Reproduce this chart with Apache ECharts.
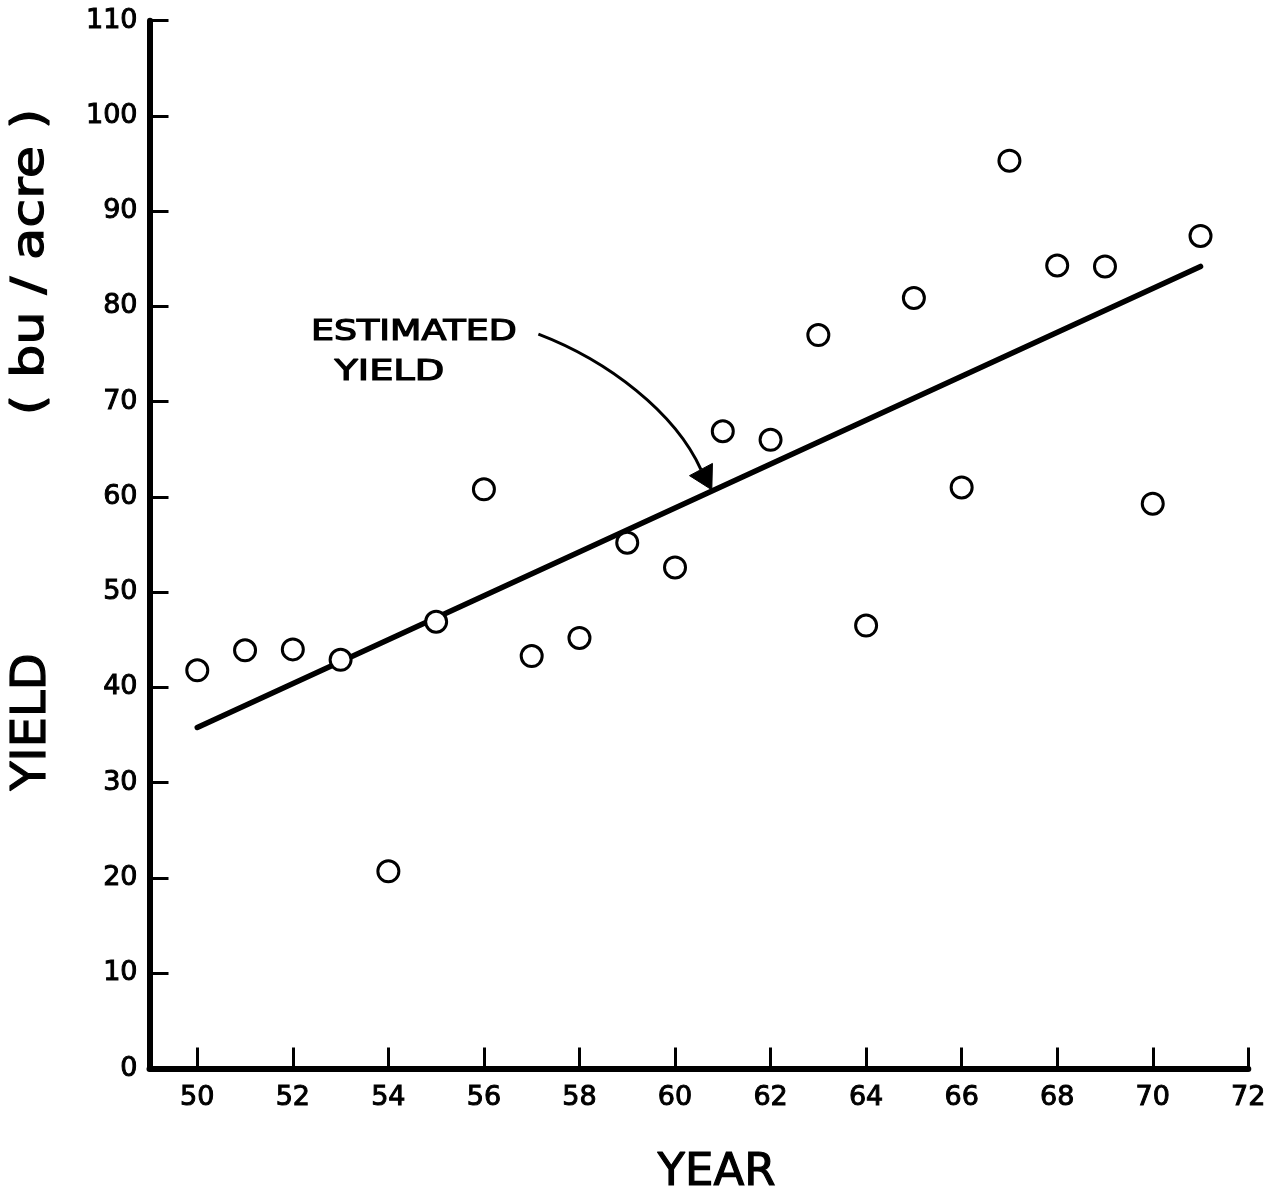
<!DOCTYPE html>
<html><head><meta charset="utf-8">
<script src="https://cdn.jsdelivr.net/npm/echarts@6/dist/echarts.min.js"></script>
<style>html,body{margin:0;padding:0;background:#fff}#c{width:1281px;height:1197px}</style>
</head><body><div id="c"></div>
<script>
// ---- data ----
const years = [50, 51, 52, 53, 54, 55, 56, 57, 58, 59, 60, 61, 62, 63, 64, 65, 66, 67, 68, 69, 70, 71];
const yields = [41.8, 43.9, 44.0, 42.9, 20.7, 46.9, 60.8, 43.3, 45.2, 55.2, 52.6, 66.9, 66.0, 77.0, 46.5, 80.9, 61.0, 95.3, 84.3, 84.2, 59.3, 87.4];
const trendYears = [50, 71];
const trendValues = [35.8, 84.2];
const xTicks = [50, 52, 54, 56, 58, 60, 62, 64, 66, 68, 70, 72];
const annotationLines = ['ESTIMATED', 'YIELD'];

const FONT = 'DejaVu Sans';
const chart = echarts.init(document.getElementById('c'), null, {renderer: 'canvas'});
chart.setOption({
  animation: false,
  backgroundColor: '#fff',
  grid: {left: 149.5, right: 32.7, top: 20.7, bottom: 128.5},
  xAxis: {
    type: 'value', min: 49, max: 72,
    axisLine: {show: true, onZero: false, lineStyle: {color: '#000', width: 6}},
    axisTick: {show: true, inside: true, length: 21, customValues: xTicks, lineStyle: {color: '#000', width: 3}},
    axisLabel: {show: true, customValues: xTicks, color: '#000', fontFamily: FONT, fontSize: 27, margin: 16,
                textBorderColor: '#000', textBorderWidth: 1},
    splitLine: {show: false}
  },
  yAxis: {
    type: 'value', min: 0, max: 110, interval: 10,
    axisLine: {show: true, lineStyle: {color: '#000', width: 6}},
    axisTick: {show: true, inside: true, length: 19, lineStyle: {color: '#000', width: 3}},
    axisLabel: {color: '#000', fontFamily: FONT, fontSize: 27, margin: 12, textBorderColor: '#000', textBorderWidth: 1},
    splitLine: {show: false}
  },
  series: [
    {
      type: 'line', data: trendYears.map((x, i) => [x, trendValues[i]]),
      symbol: 'none', lineStyle: {color: '#000', width: 5.5, cap: 'round'}, z: 2, silent: true
    },
    {
      type: 'scatter', data: years.map((x, i) => [x, yields[i]]),
      symbol: 'circle', symbolSize: 21,
      itemStyle: {color: '#fff', borderColor: '#000', borderWidth: 3, opacity: 1}, z: 3
    }
  ]
});

// ---- annotation (anchored in data coordinates) ----
function px(p) { return chart.convertToPixel({gridIndex: 0}, p); }
const pStart = px([57.14, 77.1]);
const pC1 = px([58.6, 74.3]);
const pC2 = px([60.0, 68.9]);
const pTip = px([60.77, 60.75]);
const pEndRef = px([60.55, 62.82]);
const dx = pTip[0] - pEndRef[0], dy = pTip[1] - pEndRef[1];
const dl = Math.hypot(dx, dy), ux = dx / dl, uy = dy / dl;
const L = 23, HW = 13;
const base = [pTip[0] - ux * L, pTip[1] - uy * L];
const c1 = [base[0] - uy * HW, base[1] + ux * HW];
const c2 = [base[0] + uy * HW, base[1] - ux * HW];
const pText1 = px([52.38, 77.2]);
const pText2 = px([52.87, 73.06]);

const thick = {stroke: '#000', lineWidth: 1.2};
chart.setOption({
  graphic: [
    {type: 'bezierCurve', shape: {x1: pStart[0], y1: pStart[1], cpx1: pC1[0], cpy1: pC1[1], cpx2: pC2[0], cpy2: pC2[1], x2: base[0], y2: base[1]},
     style: {stroke: '#000', lineWidth: 3, fill: null}, z: 10},
    {type: 'polygon', shape: {points: [pTip, c1, c2]}, style: {fill: '#000', stroke: '#000', lineWidth: 1}, z: 10},
    {type: 'text', x: pText1[0], y: pText1[1], scaleX: 1.3, style: Object.assign({text: annotationLines[0], fontFamily: FONT, fontSize: 28, fill: '#000', textAlign: 'left', textVerticalAlign: 'middle'}, thick), z: 10},
    {type: 'text', x: pText2[0], y: pText2[1], scaleX: 1.37, style: Object.assign({text: annotationLines[1], fontFamily: FONT, fontSize: 28, fill: '#000', textAlign: 'left', textVerticalAlign: 'middle'}, thick), z: 10},
    {type: 'text', x: 716.5, y: 1173, style: Object.assign({text: 'YEAR', fontFamily: FONT, fontSize: 45, fill: '#000', textAlign: 'center', textVerticalAlign: 'middle'}, thick), z: 10},
    {type: 'text', x: 33, y: 722, rotation: Math.PI / 2, style: Object.assign({text: 'YIELD', fontFamily: FONT, fontSize: 48, fill: '#000', textAlign: 'center', textVerticalAlign: 'middle'}, thick), z: 10},
    {type: 'text', x: 31, y: 262, rotation: Math.PI / 2, scaleX: 1.17, style: Object.assign({text: '( bu / acre )', fontFamily: FONT, fontSize: 45, fill: '#000', textAlign: 'center', textVerticalAlign: 'middle'}, thick), z: 10}
  ]
});
</script>
</body></html>
